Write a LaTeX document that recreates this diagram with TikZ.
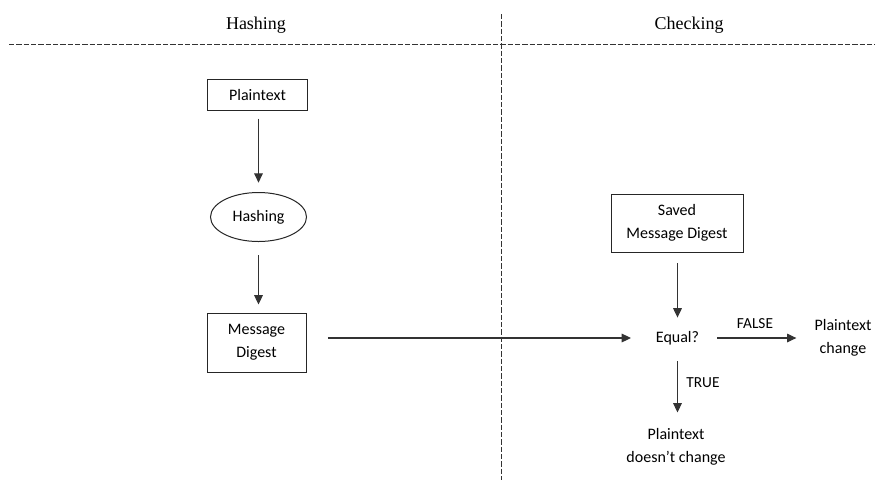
\documentclass[tikz,border=0pt]{standalone}
\usepackage{fontspec}
\setmainfont{Carlito}
\newfontfamily\hdrfont{Liberation Serif}
\usetikzlibrary{arrows.meta,shapes.geometric}
\begin{document}
\begin{tikzpicture}[x=0.75pt,y=-0.75pt,
  every node/.style={font=\fontsize{12}{17}\selectfont, text=black},
  hdr/.style={font=\hdrfont\fontsize{13.5}{16}\selectfont, inner sep=0pt},
  boxnode/.style={draw=black!85, line width=0.75pt, rectangle, align=center, inner sep=0pt},
  ellnode/.style={draw=black!85, line width=0.75pt, ellipse, inner sep=0pt},
  txt/.style={inner sep=0pt, align=center},
  lbl/.style={inner sep=0pt, font=\fontsize{11.5}{14}\selectfont},
  arr/.style={draw=black!80, line width=0.8pt, -{Triangle[length=7pt,width=6.5pt]}},
  sep/.style={draw=black!80, line width=0.75pt, dash pattern=on 4pt off 1.5pt}
]
\useasboundingbox (0,0) rectangle (875,480);

% separators
\coordinate (vtop) at (501.5,14);
\coordinate (vbot) at (501.5,480);
\coordinate (hl) at (9,44.5);
\coordinate (hr) at (875,44.5);
\draw[sep] (vtop) -- (vbot);
\draw[sep] (hl) -- (hr);

% headers
\node[hdr] (hH) at (256,25) {Hashing};
\node[hdr] (hC) at (689,25) {Checking};

% left column
\node[boxnode, minimum width=75pt, minimum height=23.25pt] (pt) at (257.5,94.5) {Plaintext};
\node[ellnode, minimum width=72pt, minimum height=36.75pt] (hash) at (258.5,217) {Hashing};
\node[boxnode, minimum width=74.25pt, minimum height=44.25pt] (md) at (256.5,342.5) {Message\\Digest};

% right column
\node[boxnode, minimum width=99pt, minimum height=43.5pt] (saved) at (677,223) {Saved\\Message Digest};
\node[txt] (eq) at (677.5,338) {Equal?};
\node[txt] (chg) at (843,338) {Plaintext\\change};
\node[txt] (nochg) at (676,447) {Plaintext\\doesn’t change};

% connectors
\draw[arr, shorten <=6pt, shorten >=7pt] (pt.south -| hash.north) -- (hash.north);
\draw[arr, shorten <=10pt, shorten >=6pt] (hash.south) -- (hash.south |- md.north);
\draw[arr, shorten <=16pt, shorten >=18.5pt] (md.east |- eq.west) -- (eq.west);
\draw[arr, shorten <=8pt, shorten >=10pt] (saved.south -| eq.north) -- (eq.north);
\draw[arr, shorten <=13.5pt, shorten >=13.5pt] (eq.east) -- (eq.east -| chg.west);
\draw[arr, shorten <=12pt, shorten >=12pt] (eq.south) -- (eq.south |- nochg.north);

% labels
\node[lbl] (lf) at (755,324) {FALSE};
\node[lbl] (lt) at (703,383) {TRUE};
\end{tikzpicture}
\end{document}
